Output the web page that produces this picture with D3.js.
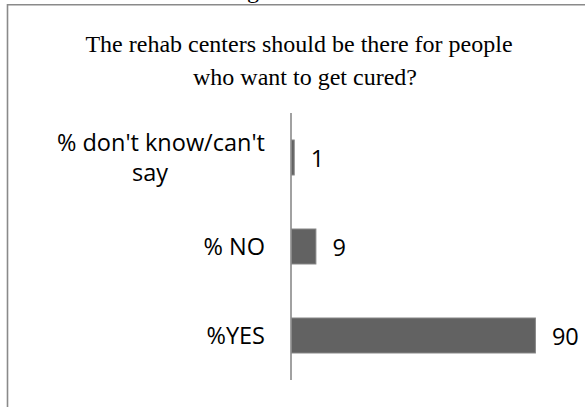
<!DOCTYPE html>
<html>
<head>
<meta charset="utf-8">
<script src="https://cdn.jsdelivr.net/npm/d3@7"></script>
<style>
html,body{margin:0;padding:0;background:#fff;}
svg{display:block;}
</style>
</head>
<body>
<svg id="chart" width="585" height="407"></svg>
<script>
const categories = ["% don't know/can't say", "% NO", "%YES"];
const categoryLines = [["% don't know/can't", "say"], ["% NO"], ["%YES"]];
const values = [1, 9, 90];
const titleLines = ["The rehab centers should be there for people", "who want to get cured?"];

const svg = d3.select("#chart");
const W = 585, H = 407;

// frame (chart area border, cut by the image edges)
svg.append("path")
  .attr("d", `M7.5,${H} L7.5,4.8 L${W},4.8`)
  .attr("fill", "none").attr("stroke", "#8a8a8a").attr("stroke-width", 1.6);

// clipped caption descender above the frame
svg.append("text").attr("x", 253).attr("y", -2.5)
  .attr("text-anchor", "middle")
  .attr("font-family", "'Liberation Serif', 'Times New Roman', serif")
  .attr("font-size", 24).attr("fill", "#000").text("g");

// title
const title = svg.append("g")
  .attr("font-family", "'Liberation Serif', 'Times New Roman', serif")
  .attr("font-size", 24).attr("fill", "#000").attr("text-anchor", "middle");
const titleX = [299, 305], titleY = [52, 85];
titleLines.forEach((t, i) => title.append("text").attr("x", titleX[i]).attr("y", titleY[i]).text(t));

// scales
const x = d3.scaleLinear().domain([0, 100]).range([291, 562]);
const y = d3.scaleBand().domain(categories).range([113, 380])
  .paddingInner(0.607).paddingOuter(0.3035);

// bars
svg.append("g").selectAll("rect").data(values).join("rect")
  .attr("x", x(0) + 0.5)
  .attr("y", (d, i) => y(categories[i]))
  .attr("width", d => x(d) - x(0))
  .attr("height", y.bandwidth())
  .attr("fill", "#626262")
  .attr("stroke", "#858585").attr("stroke-width", 1);

// axis line
svg.append("line").attr("x1", x(0)).attr("x2", x(0)).attr("y1", 113).attr("y2", 380)
  .attr("stroke", "#8a8a8a").attr("stroke-width", 1.6);

const fontFam = "'Open Sans', 'Noto Sans', sans-serif";
const fs = 23.5;

// value labels
svg.append("g").selectAll("text").data(values).join("text")
  .attr("x", d => x(d) + 17)
  .attr("y", (d, i) => y(categories[i]) + y.bandwidth() / 2 + 9)
  .attr("font-family", fontFam).attr("font-size", fs).attr("fill", "#000")
  .text(d => d);

// category labels
const lineH = 30;
categoryLines.forEach((lines, i) => {
  const cy = y(categories[i]) + y.bandwidth() / 2;
  if (lines.length === 1) {
    svg.append("text").attr("x", 265).attr("y", cy + 8.5)
      .attr("text-anchor", "end")
      .attr("font-family", fontFam).attr("font-size", fs).attr("fill", "#000")
      .text(lines[0]);
  } else {
    const t = svg.append("text").attr("font-family", fontFam).attr("font-size", fs).attr("fill", "#000");
    t.append("tspan").attr("x", 265).attr("y", cy - 6.5).attr("text-anchor", "end").text(lines[0]);
    t.append("tspan").attr("x", 150).attr("y", cy - 6.5 + lineH).attr("text-anchor", "middle").text(lines[1]);
  }
});
</script>
</body>
</html>
